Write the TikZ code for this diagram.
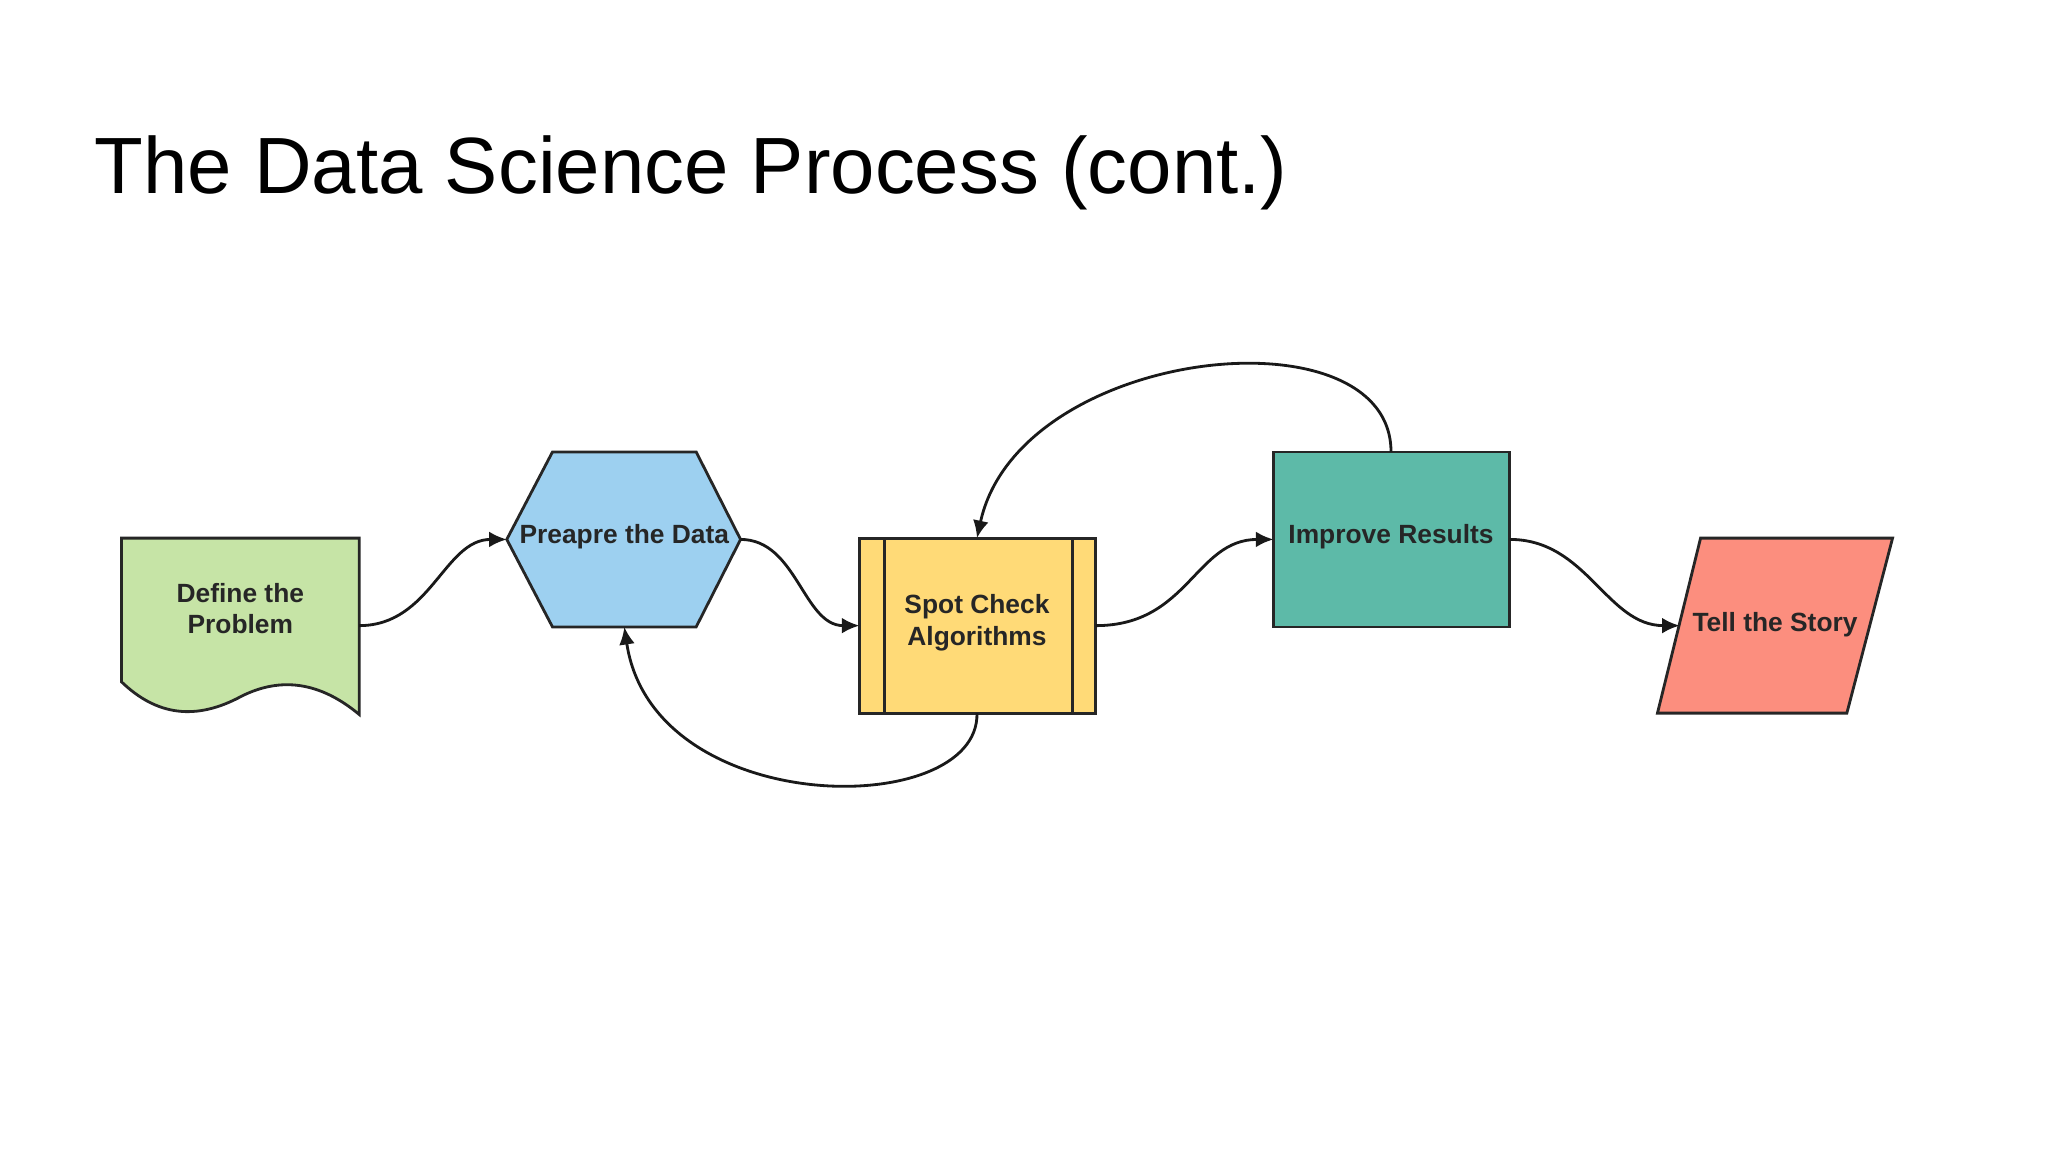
\documentclass[tikz,border=0pt]{standalone}
\usepackage{fontspec}
\setmainfont{Liberation Sans}
\usetikzlibrary{arrows.meta}
\begin{document}
\begin{tikzpicture}[x=0.013061cm,y=-0.013061cm,
    shape line/.style={draw=black!85,line width=0.8pt},
    lbl/.style={font=\fontsize{7.5}{9}\selectfont\bfseries,align=center,text=black!85},
    flow/.style={draw=black!90,line width=0.8pt,-{Latex[length=5pt,width=4.5pt]}},
  ]
  \useasboundingbox (0,0) rectangle (1568,882);
  \node[anchor=west,font=\fontsize{22.7}{27}\selectfont] (title) at (63,132) {The Data Science Process (cont.)};

  % Define the Problem (document shape)
  \draw[shape line,fill={rgb,255:red,198;green,228;blue,166}]
    (93,412) -- (275,412) -- (275,547)
    .. controls (245,522) and (215,518) .. (185,533)
    .. controls (150,552) and (120,548) .. (93,522) -- cycle;
  \node[lbl] (def) at (184,466) {Define the\\Problem};
  \coordinate (defE) at (275,479);

  % Preapre the Data (hexagon)
  \draw[shape line,fill={rgb,255:red,157;green,208;blue,240}]
    (388,413) -- (423,346) -- (533,346) -- (567,413) -- (533,480) -- (423,480) -- cycle;
  \node[lbl] (prep) at (478,411) {Preapre the Data};
  \coordinate (prepW) at (388,413);
  \coordinate (prepE) at (567,413);
  \coordinate (prepS) at (478,480);

  % Spot Check Algorithms (predefined process)
  \draw[shape line,fill={rgb,255:red,255;green,218;blue,119}] (658,412) rectangle (839,546);
  \draw[shape line] (677,412) -- (677,546) (821,412) -- (821,546);
  \node[lbl] (spot) at (748,477) {Spot Check\\Algorithms};
  \coordinate (spotW) at (658,479);
  \coordinate (spotE) at (839,479);
  \coordinate (spotN) at (748,412);
  \coordinate (spotS) at (748,546);

  % Improve Results
  \draw[shape line,fill={rgb,255:red,93;green,186;blue,168}] (975,346) rectangle (1156,480);
  \node[lbl] (impr) at (1065,411) {Improve Results};
  \coordinate (imprW) at (975,413);
  \coordinate (imprE) at (1156,413);
  \coordinate (imprN) at (1065,346);

  % Tell the Story (parallelogram)
  \draw[shape line,fill={rgb,255:red,252;green,142;blue,126}]
    (1269,546) -- (1302,412) -- (1449,412) -- (1414,546) -- cycle;
  \node[lbl] (tell) at (1359,478) {Tell the Story};
  \coordinate (tellW) at (1286,479);

  % connectors
  \draw[flow] (defE) .. controls (330,479) and (340,413) .. (prepW);
  \draw[flow] (prepE) .. controls (610,413) and (615,479) .. (spotW);
  \draw[flow] (spotE) .. controls (910,479) and (915,413) .. (imprW);
  \draw[flow] (imprE) .. controls (1215,413) and (1230,479) .. (tellW);
  \draw[flow] (spotS) .. controls (750,628) and (500,628) .. (prepS);
  \draw[flow] (imprN) .. controls (1065,235) and (780,265) .. (spotN);
\end{tikzpicture}
\end{document}
